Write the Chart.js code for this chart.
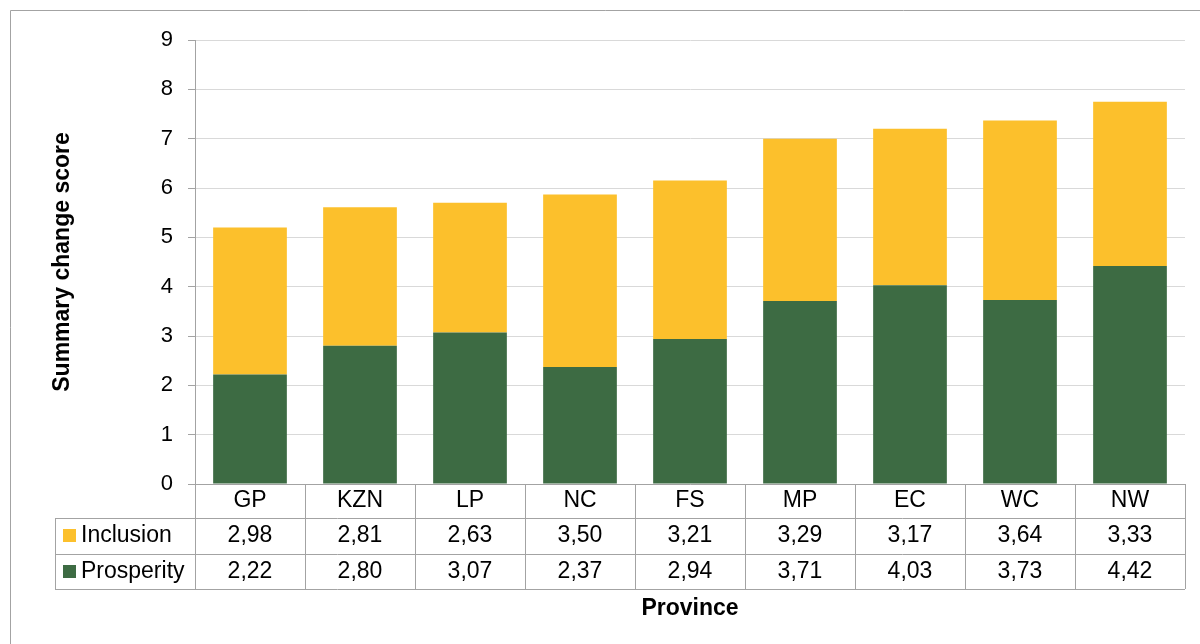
<!DOCTYPE html>
<html>
<head>
<meta charset="utf-8">
<script src="https://cdn.jsdelivr.net/npm/chart.js@4/dist/chart.umd.min.js"></script>
<style>
  html, body { margin: 0; padding: 0; background: #fff; }
  #wrap { position: relative; width: 1200px; height: 644px; }
</style>
</head>
<body>
<div id="wrap"><canvas id="chart"></canvas></div>
<script>
const provinces = ["GP", "KZN", "LP", "NC", "FS", "MP", "EC", "WC", "NW"];
const inclusion = [2.98, 2.81, 2.63, 3.50, 3.21, 3.29, 3.17, 3.64, 3.33];
const prosperity = [2.22, 2.80, 3.07, 2.37, 2.94, 3.71, 4.03, 3.73, 4.42];
const yTicks = [0, 1, 2, 3, 4, 5, 6, 7, 8, 9];

const YELLOW = "#fcc02c";
const GREEN = "#3d6b43";
const LINE = "#a3a3a3";
const FONT = "'Liberation Sans', Arial, sans-serif";

const fmt = (v) => v.toFixed(2).replace(".", ",");

// table under the x axis: one row per series, with a small legend key
const dataTable = {
  id: "dataTable",
  afterDraw(chart) {
    const { ctx, chartArea } = chart;
    const x = chart.scales.x;
    const rows = [
      { label: "Inclusion", color: YELLOW, values: inclusion },
      { label: "Prosperity", color: GREEN, values: prosperity },
    ];
    const top = chartArea.bottom;
    const rowY = [top + 34, top + 69.5, top + 105];
    const tableLeft = 55;

    ctx.save();
    ctx.strokeStyle = LINE;
    ctx.lineWidth = 1;

    // category separators
    for (let i = 0; i <= provinces.length; i++) {
      const px = Math.round(x.getPixelForValue(i - 0.5)) + 0.5;
      ctx.beginPath();
      ctx.moveTo(px, top);
      ctx.lineTo(px, rowY[2]);
      ctx.stroke();
    }
    // row lines
    rowY.forEach((y) => {
      ctx.beginPath();
      ctx.moveTo(tableLeft, Math.round(y) + 0.5);
      ctx.lineTo(chartArea.right, Math.round(y) + 0.5);
      ctx.stroke();
    });
    ctx.beginPath();
    ctx.moveTo(tableLeft + 0.5, rowY[0]);
    ctx.lineTo(tableLeft + 0.5, rowY[2]);
    ctx.stroke();

    ctx.font = "23px " + FONT;
    ctx.textBaseline = "middle";
    rows.forEach((row, r) => {
      const cy = (rowY[r] + rowY[r + 1]) / 2;
      ctx.fillStyle = row.color;
      ctx.fillRect(tableLeft + 8, Math.round(cy - 6.5), 13, 13);
      ctx.fillStyle = "#000";
      ctx.textAlign = "left";
      ctx.fillText(row.label, tableLeft + 26, cy);
      ctx.textAlign = "center";
      row.values.forEach((v, i) => {
        ctx.fillText(fmt(v), x.getPixelForValue(i), cy);
      });
    });
    ctx.restore();
  },
};

// outer frame
const frame = {
  id: "frame",
  beforeDraw(chart) {
    const { ctx } = chart;
    ctx.save();
    ctx.strokeStyle = LINE;
    ctx.lineWidth = 1;
    ctx.beginPath();
    ctx.moveTo(10.5, chart.height + 5);
    ctx.lineTo(10.5, 10.5);
    ctx.lineTo(chart.width + 5, 10.5);
    ctx.stroke();
    ctx.restore();
  },
};

new Chart(document.getElementById("chart"), {
  type: "bar",
  data: {
    labels: provinces,
    datasets: [
      { label: "Prosperity", data: prosperity, backgroundColor: GREEN },
      { label: "Inclusion", data: inclusion, backgroundColor: YELLOW },
    ],
  },
  options: {
    responsive: true,
    maintainAspectRatio: false,
    animation: false,
    layout: { padding: { top: 40, right: 15, left: 0, bottom: 0 } },
    datasets: { bar: { barPercentage: 0.67, categoryPercentage: 1 } },
    plugins: { legend: { display: false }, tooltip: { enabled: false } },
    scales: {
      x: {
        stacked: true,
        afterFit: (s) => { s.height = 160; },
        grid: { display: false, drawTicks: false },
        border: { display: true, color: LINE },
        ticks: { color: "#000", padding: 3, font: { family: FONT, size: 23 } },
        title: {
          display: true,
          text: "Province",
          color: "#000",
          padding: { top: 0, bottom: 22 },
          font: { family: FONT, size: 23, weight: "bold" },
        },
      },
      y: {
        stacked: true,
        min: yTicks[0],
        max: yTicks[yTicks.length - 1],
        afterFit: (s) => { s.width = 195; },
        afterBuildTicks: (s) => { s.ticks = yTicks.map((v) => ({ value: v })); },
        grid: { color: "#d9d9d9", tickColor: LINE, tickLength: 7 },
        border: { color: LINE },
        ticks: { color: "#000", padding: 15, font: { family: FONT, size: 22 } },
        title: {
          display: true,
          text: "Summary change score",
          color: "#000",
          padding: { top: 49, bottom: 0 },
          font: { family: FONT, size: 23, weight: "bold" },
        },
      },
    },
  },
  plugins: [frame, dataTable],
});
</script>
</body>
</html>
